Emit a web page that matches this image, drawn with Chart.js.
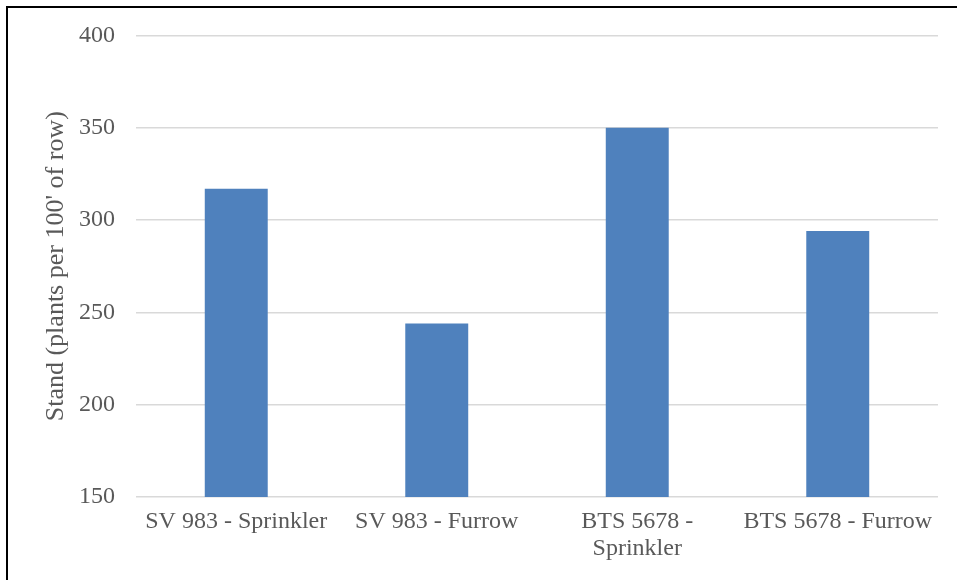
<!DOCTYPE html>
<html>
<head>
<meta charset="utf-8">
<script src="https://cdn.jsdelivr.net/npm/chart.js@4"></script>
<style>
  html, body { margin: 0; padding: 0; background: #fff; overflow: hidden; }
  #wrap { position: relative; width: 957px; height: 580px; }
  #frame { position: absolute; left: 6px; top: 6px; width: 1000px; height: 1000px;
           border: 2px solid #000; pointer-events: none; }
</style>
</head>
<body>
<div id="wrap">
  <canvas id="standChart" width="957" height="580"></canvas>
  <div id="frame"></div>
</div>
<script>
let categories = ['SV 983 - Sprinkler', 'SV 983 - Furrow', ['BTS 5678 -', 'Sprinkler'], 'BTS 5678 - Furrow'];
let standValues = [317, 244, 350, 294];
let yTicks = { min: 150, max: 400, step: 50 };

let textColor = '#595959';
let serif = "'Liberation Serif', 'Times New Roman', serif";

let ctx = document.getElementById('standChart').getContext('2d');

let myChart = new Chart(ctx, {
  type: 'bar',
  data: {
    labels: categories,
    datasets: [{
      data: standValues,
      backgroundColor: '#4F81BD',
      barPercentage: 0.314,
      categoryPercentage: 1
    }]
  },
  options: {
    responsive: false,
    animation: false,
    layout: {
      autoPadding: false,
      padding: { left: 37, right: 19, top: 35, bottom: 18 }
    },
    plugins: {
      legend: { display: false },
      tooltip: { enabled: false }
    },
    scales: {
      x: {
        // fixed axis band so the plot area lines up with the original
        afterFit: (scale) => { scale.height = 65; },
        grid: { display: false, drawTicks: false },
        border: { display: false },
        ticks: {
          color: textColor,
          padding: 12,
          maxRotation: 0,
          autoSkip: false,
          font: { family: serif, size: 24, lineHeight: 1.1 }
        }
      },
      y: {
        min: yTicks.min,
        max: yTicks.max,
        afterFit: (scale) => { scale.width = 99; },
        border: { display: false },
        grid: { color: '#D9D9D9', lineWidth: 1.5, drawTicks: false },
        ticks: {
          stepSize: yTicks.step,
          color: textColor,
          padding: 21,
          font: { family: serif, size: 24 }
        },
        title: {
          display: true,
          text: "Stand (plants per 100' of row)",
          color: textColor,
          padding: { top: 4, bottom: 7 },
          font: { family: serif, size: 26 }
        }
      }
    }
  }
});
</script>
</body>
</html>
